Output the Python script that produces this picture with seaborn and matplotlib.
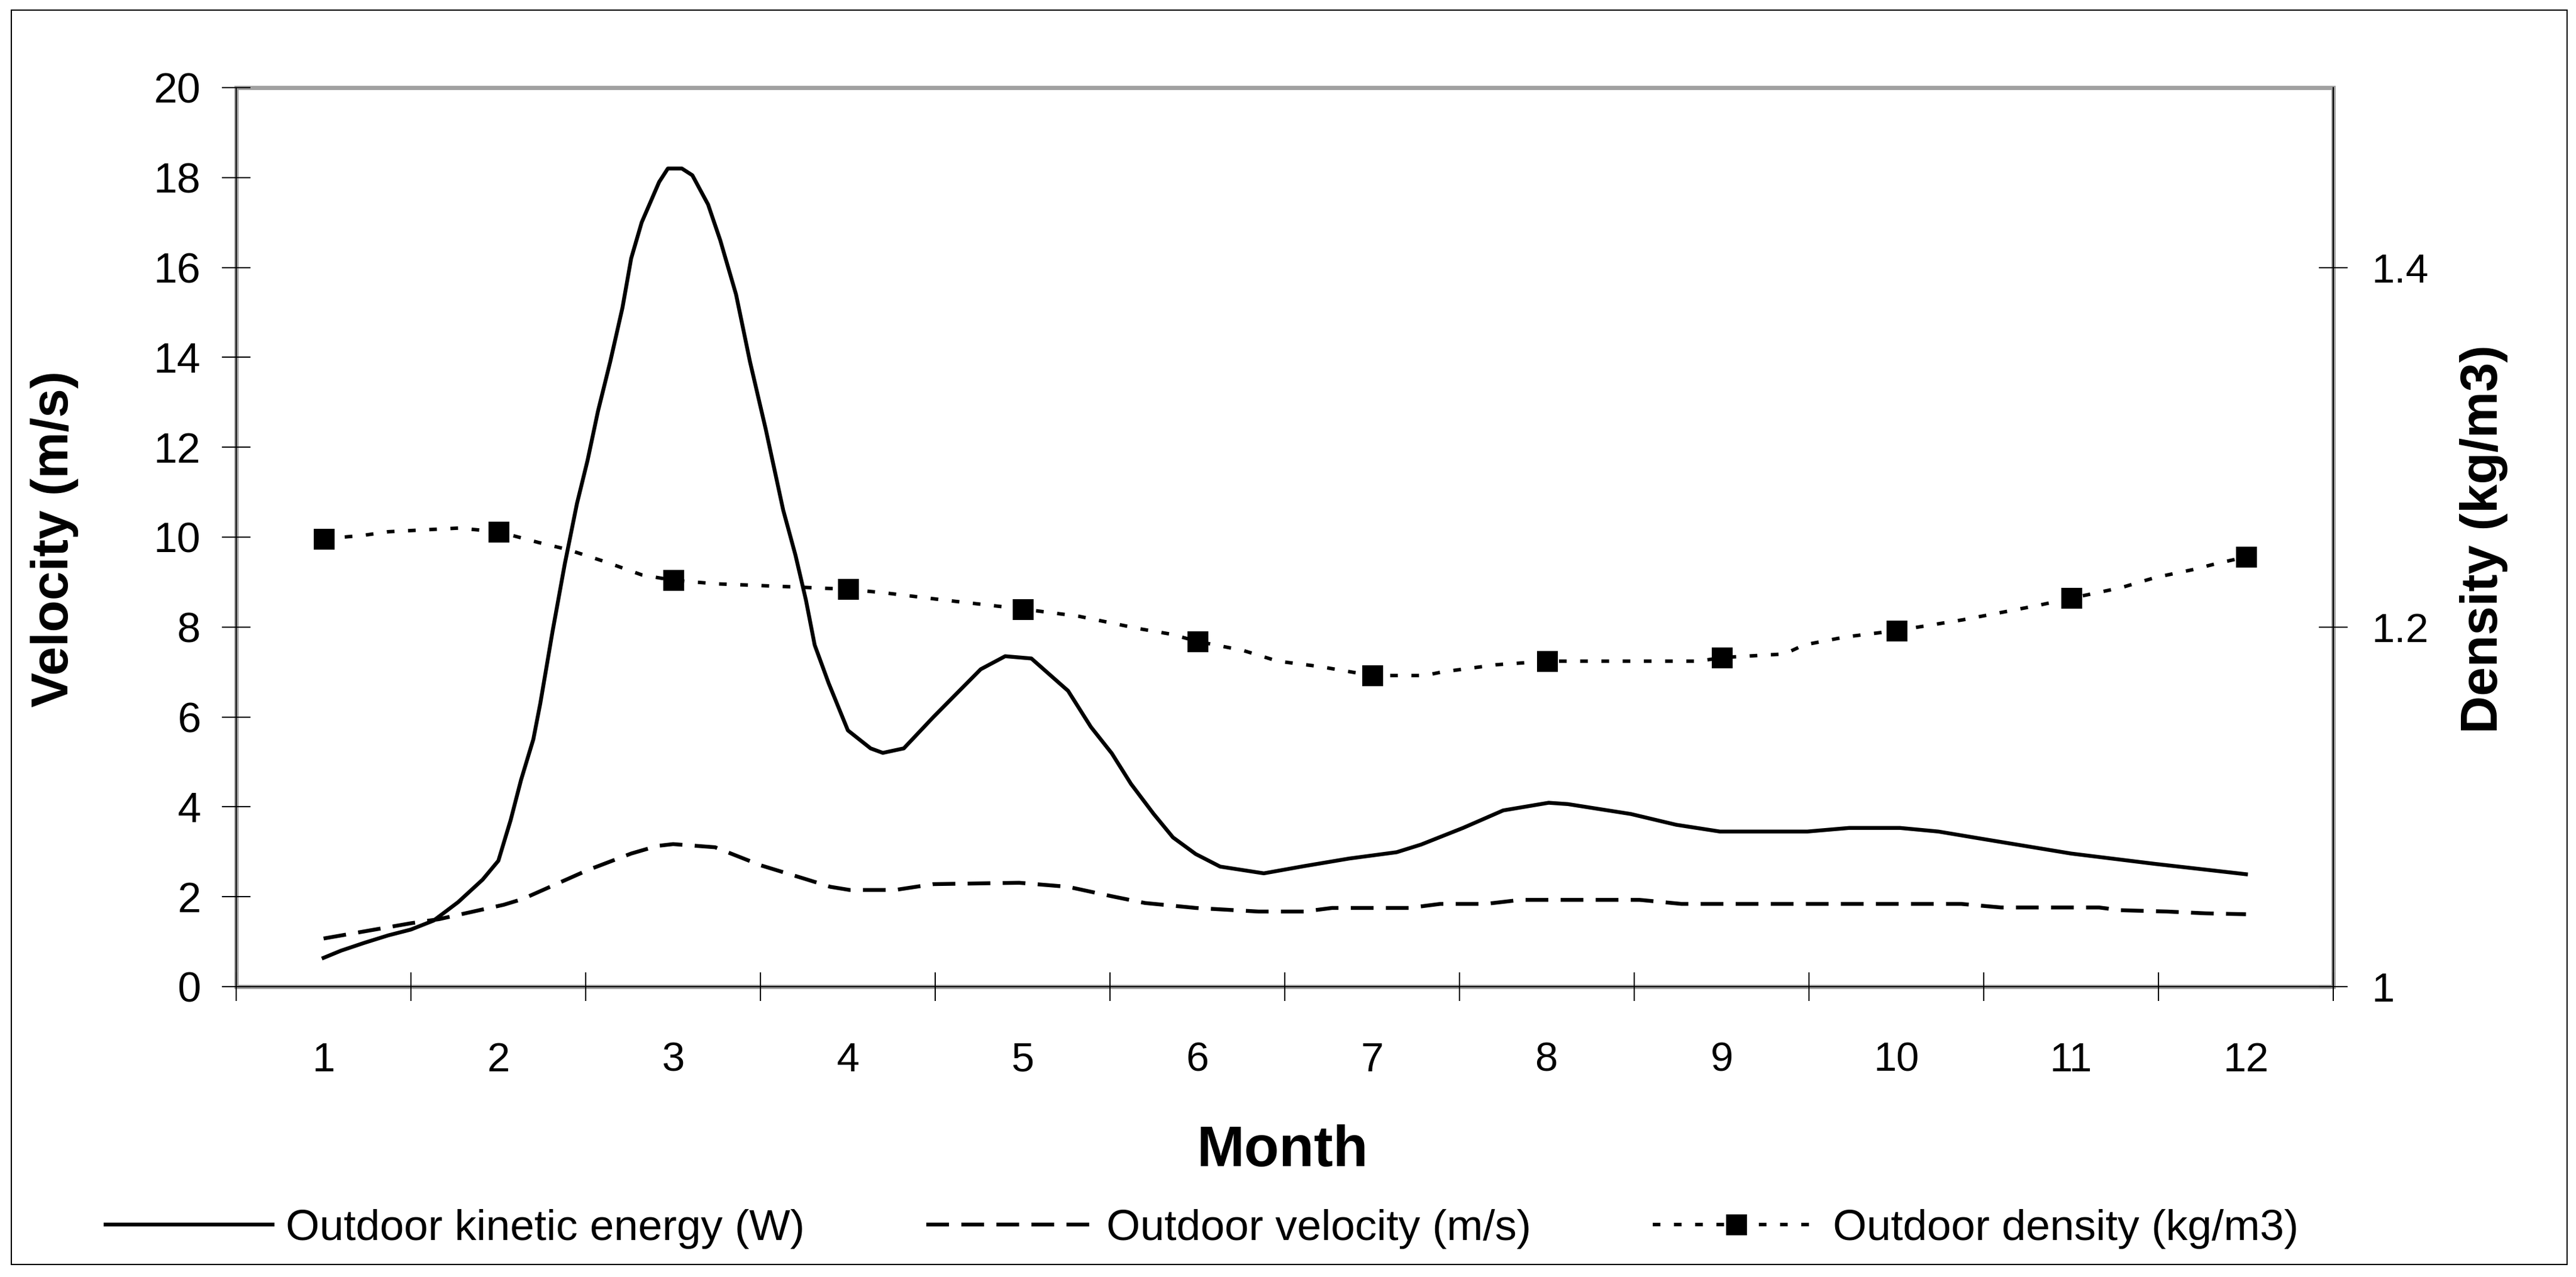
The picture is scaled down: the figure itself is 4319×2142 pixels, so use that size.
import matplotlib
matplotlib.use('Agg')
import matplotlib.pyplot as plt
from matplotlib.patches import Rectangle
import numpy as np
import pandas as pd
import seaborn as sns

# readings taken off the chart (month position, value)
ke_month = [1.0, 1.1, 1.23, 1.37, 1.5, 1.63, 1.77, 1.91, 2.0, 2.07, 2.13, 2.2, 2.24,
            2.31, 2.38, 2.45, 2.51, 2.57, 2.64, 2.71, 2.76, 2.82, 2.92, 2.97, 3.05,
            3.11, 3.2, 3.27, 3.36, 3.44, 3.53, 3.63, 3.7, 3.76, 3.81, 3.89, 4.0,
            4.13, 4.2, 4.32, 4.49, 4.63, 4.76, 4.9, 5.05, 5.26, 5.39, 5.51, 5.62,
            5.75, 5.86, 5.99, 6.13, 6.38, 6.61, 6.87, 7.14, 7.28, 7.52, 7.75, 8.01,
            8.12, 8.48, 8.74, 8.99, 9.49, 9.73, 10.02, 10.24, 10.47, 11.0, 11.48, 12.0]
ke_value = [0.64, 0.8, 0.97, 1.14, 1.27, 1.47, 1.88, 2.38, 2.8, 3.7, 4.6, 5.5, 6.3,
            7.9, 9.4, 10.75, 11.7, 12.8, 13.9, 15.1, 16.2, 17.0, 17.9, 18.2, 18.2,
            18.05, 17.4, 16.6, 15.4, 13.9, 12.4, 10.6, 9.6, 8.6, 7.6, 6.75, 5.7,
            5.3, 5.2, 5.3, 6.0, 6.55, 7.06, 7.35, 7.3, 6.58, 5.78, 5.19, 4.51,
            3.84, 3.32, 2.95, 2.67, 2.52, 2.68, 2.85, 2.99, 3.16, 3.53, 3.92, 4.09,
            4.06, 3.84, 3.6, 3.45, 3.45, 3.53, 3.53, 3.45, 3.3, 2.96, 2.73, 2.5]

vel_month = [1.0, 1.5, 1.66, 2.03, 2.14, 2.51, 2.76, 2.91, 3.0, 3.24, 3.5, 3.76, 3.9,
             4.01, 4.27, 4.49, 4.98, 5.26, 5.51, 5.7, 5.99, 6.35, 6.61, 6.77, 7.21,
             7.39, 7.65, 7.85, 8.53, 8.77, 9.0, 10.37, 10.6, 11.16, 11.28, 11.55,
             11.77, 12.0]
vel_value = [1.07, 1.41, 1.5, 1.82, 1.95, 2.59, 2.96, 3.13, 3.17, 3.1, 2.7, 2.39, 2.22,
             2.15, 2.15, 2.28, 2.31, 2.22, 2.01, 1.86, 1.75, 1.67, 1.67, 1.75, 1.75,
             1.84, 1.84, 1.93, 1.93, 1.84, 1.84, 1.84, 1.76, 1.76, 1.7, 1.67,
             1.63, 1.61]

dens_month = [1.0, 1.23, 1.37, 1.77, 2.0, 2.23, 2.4, 2.62, 2.82, 3.0, 3.25, 3.64, 4.0,
              4.21, 4.55, 5.0, 5.32, 5.67, 5.85, 6.0, 6.26, 6.46, 6.7, 7.0, 7.3, 7.4,
              7.71, 8.0, 8.87, 9.0, 9.36, 9.47, 9.71, 10.0, 10.38, 10.81, 11.0, 11.29,
              11.48, 11.7, 11.82, 12.0]
dens_value = [1.249, 1.251, 1.253, 1.255, 1.253, 1.247, 1.243, 1.236, 1.229, 1.226,
              1.224, 1.2225, 1.221, 1.219, 1.215, 1.21, 1.206, 1.199, 1.196, 1.192,
              1.187, 1.181, 1.178, 1.173, 1.173, 1.175, 1.179, 1.181, 1.181, 1.183,
              1.185, 1.19, 1.1945, 1.198, 1.204, 1.212, 1.216, 1.222, 1.2275, 1.232,
              1.235, 1.239]

months = list(range(1, 13))
velocity_ticks = list(range(0, 21, 2))
density_ticks = [1, 1.2, 1.4]
density_tick_labels = ['1', '1.2', '1.4']

plt.rcParams['font.family'] = ['Liberation Sans', 'DejaVu Sans']

fig = plt.figure(figsize=(4319 / 300, 2142 / 300), dpi=300)
fig.patch.set_facecolor('white')
ax = fig.add_axes([0.0917, 0.2274, 0.8141, 0.704])
ax2 = ax.twinx()

ke = pd.DataFrame({'month': ke_month, 'value': ke_value})
vel = pd.DataFrame({'month': vel_month, 'value': vel_value})
dens = pd.DataFrame({'month': dens_month, 'value': dens_value})
dens_marks = [i for i, m in enumerate(dens_month) if float(m).is_integer()]

sns.lineplot(data=ke, x='month', y='value', ax=ax, color='black', linewidth=1.55,
             label='Outdoor kinetic energy (W)', legend=False, estimator=None)
sns.lineplot(data=vel, x='month', y='value', ax=ax, color='black', linewidth=1.55,
             linestyle=(0, (5.9, 3.2)), label='Outdoor velocity (m/s)',
             legend=False, estimator=None)
sns.lineplot(data=dens, x='month', y='value', ax=ax2, color='black', linewidth=1.4,
             linestyle=(0, (2.2, 3.9)), marker='s', markersize=8.4,
             markerfacecolor='black', markeredgecolor='black', markeredgewidth=0,
             markevery=dens_marks, label='Outdoor density (kg/m3)',
             legend=False, estimator=None)

ax.set_xlim(0.5, 12.5)
ax.set_ylim(0, 20)
ax2.set_ylim(1, 1.5)
ax.set_xlabel('')
ax.set_ylabel('')
ax2.set_ylabel('')

ax.set_xticks(months)
ax.set_xticklabels([str(m) for m in months])
ax.set_xticks(np.arange(0.5, 13, 1), minor=True)
ax.tick_params(axis='x', which='major', length=0, pad=22, labelsize=16.5, colors='black')
ax.tick_params(axis='x', which='minor', direction='inout', length=11.3, width=0.5,
               color='black', bottom=True)
ax.set_yticks(velocity_ticks)
ax.tick_params(axis='y', direction='inout', length=11.3, width=0.5, pad=8.6,
               labelsize=17, colors='black', left=True)
ax.yaxis.set_minor_locator(matplotlib.ticker.NullLocator())

ax2.set_yticks(density_ticks)
ax2.set_yticklabels(density_tick_labels)
ax2.tick_params(axis='y', direction='inout', length=11.3, width=0.5, pad=9.8,
                labelsize=16.5, colors='black', right=True, left=False)
ax2.yaxis.set_minor_locator(matplotlib.ticker.NullLocator())

ax.grid(False)
ax2.grid(False)
for side in ['top', 'right']:
    ax.spines[side].set_visible(False)
for side in ['left', 'bottom']:
    ax.spines[side].set_color('black')
    ax.spines[side].set_linewidth(0.5)
for side in ['left', 'top', 'bottom']:
    ax2.spines[side].set_visible(False)
ax2.spines['right'].set_color('black')
ax2.spines['right'].set_linewidth(0.5)

# grey plot-area frame behind the axis lines
ax.add_patch(Rectangle((0, 0), 1, 1, transform=ax.transAxes, fill=False,
                       edgecolor='#a0a0a0', linewidth=1.7, clip_on=False, zorder=0.5))

# chart border
fig.patches.append(Rectangle((0.0044, 0.0098), 0.9921, 0.9822, transform=fig.transFigure,
                             fill=False, edgecolor='black', linewidth=0.5))

fig.text(0.0211, 0.578, 'Velocity (m/s)', rotation=90, ha='center', va='center',
         fontsize=21, fontweight='bold')
fig.text(0.9643, 0.578, 'Density (kg/m3)', rotation=90, ha='center', va='center',
         fontsize=21, fontweight='bold')
fig.text(0.498, 0.0985, 'Month', ha='center', va='center', fontsize=23, fontweight='bold')

h1, l1 = ax.get_legend_handles_labels()
h2, l2 = ax2.get_legend_handles_labels()
fig.legend(h1 + h2, l1 + l2, loc='center', bbox_to_anchor=(0.4667, 0.0378), ncol=3,
           frameon=False, fontsize=17.5, handlelength=3.84, handletextpad=0.3,
           columnspacing=2.8, borderpad=0, borderaxespad=0)

fig.savefig('out.png', dpi=300, facecolor='white')
